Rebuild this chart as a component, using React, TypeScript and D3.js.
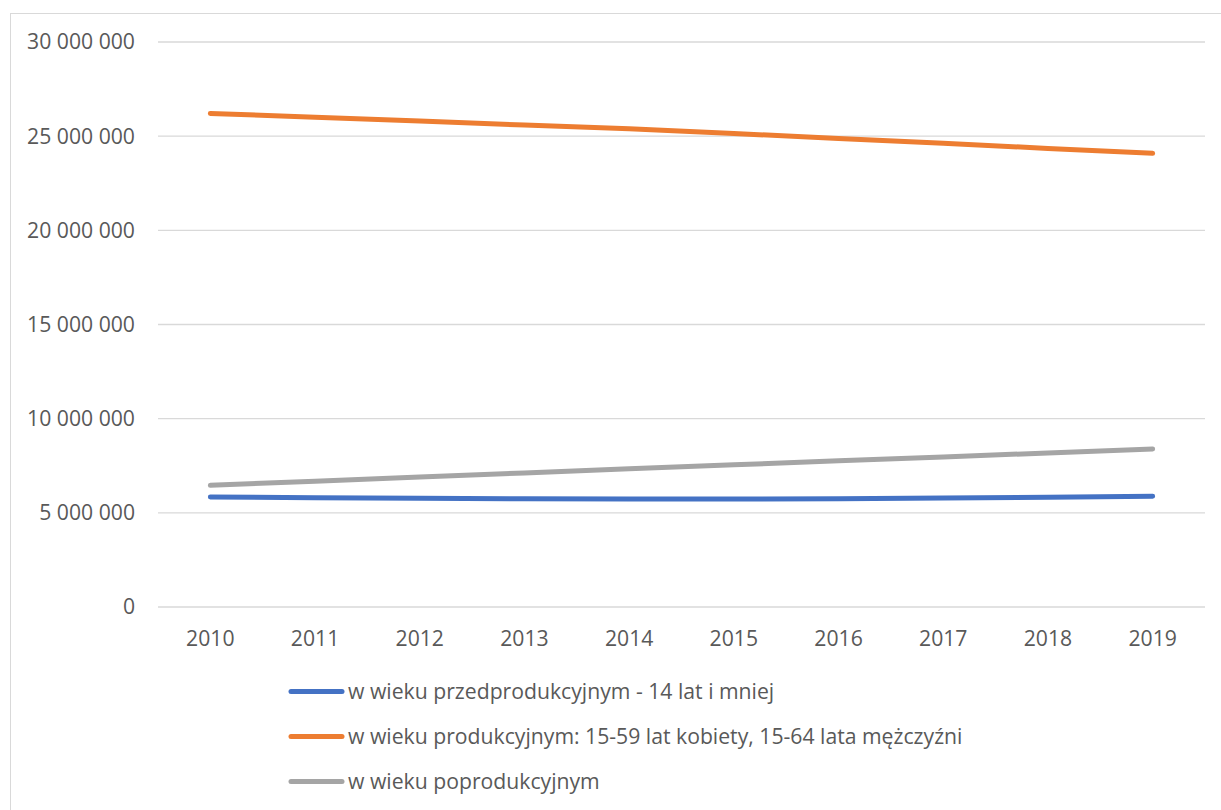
import React from "react";
import * as d3 from "d3";

const years = ["2010", "2011", "2012", "2013", "2014", "2015", "2016", "2017", "2018", "2019"];
const przedprodukcyjny = [5840000, 5800000, 5770000, 5750000, 5730000, 5730000, 5750000, 5790000, 5830000, 5880000];
const produkcyjny = [26210000, 26000000, 25800000, 25590000, 25390000, 25140000, 24880000, 24620000, 24350000, 24090000];
const poprodukcyjny = [6460000, 6680000, 6900000, 7120000, 7340000, 7550000, 7760000, 7970000, 8180000, 8390000];
const yTicks = [0, 5000000, 10000000, 15000000, 20000000, 25000000, 30000000];
const seriesNames = [
  "w wieku przedprodukcyjnym - 14 lat i mniej",
  "w wieku produkcyjnym: 15-59 lat kobiety, 15-64 lata mężczyźni",
  "w wieku poprodukcyjnym",
];
const seriesColors = ["#4472c4", "#ed7d31", "#a5a5a5"];

const W = 1221;
const H = 810;
const plot = { left: 158, right: 1205, top: 42, bottom: 607 };
const FONT = "'Open Sans', sans-serif";
const TEXT = "#595959";
const FS = 21.2;

const fmt = (v: number) => d3.format(",")(v).replace(/,/g, " ");

export default function App() {
  const x = d3.scaleBand<string>().domain(years).range([plot.left, plot.right]);
  const y = d3.scaleLinear().domain([0, 30000000]).range([plot.bottom, plot.top]);
  const cx = (yr: string) => (x(yr) ?? 0) + x.bandwidth() / 2;
  const line = d3
    .line<number>()
    .x((_, i) => cx(years[i]))
    .y((v) => y(v));
  const data = [przedprodukcyjny, produkcyjny, poprodukcyjny];

  return (
    <svg
      width={W}
      height={H}
      style={{ position: "absolute", left: 0, top: 0, background: "#fff" }}
      fontFamily={FONT}
    >
      <rect x={10.5} y={13.5} width={1230} height={830} fill="#fff" stroke="#d9d9d9" strokeWidth={1} />
      {yTicks.map((t) => (
        <g key={t}>
          <line x1={plot.left} x2={plot.right} y1={y(t)} y2={y(t)} stroke="#d9d9d9" strokeWidth={1.3} />
          <text x={135} y={y(t)} dy="0.35em" textAnchor="end" fontSize={FS} fill={TEXT}>
            {fmt(t)}
          </text>
        </g>
      ))}
      {years.map((yr) => (
        <text key={yr} x={cx(yr)} y={639} dy="0.35em" textAnchor="middle" fontSize={FS} fill={TEXT}>
          {yr}
        </text>
      ))}
      {data.map((d, i) => (
        <path
          key={i}
          d={line(d) ?? ""}
          fill="none"
          stroke={seriesColors[i]}
          strokeWidth={5}
          strokeLinecap="round"
          strokeLinejoin="round"
        />
      ))}
      {seriesNames.map((name, i) => {
        const ly = 691.5 + i * 45;
        return (
          <g key={name}>
            <line x1={291} x2={342} y1={ly} y2={ly} stroke={seriesColors[i]} strokeWidth={5} strokeLinecap="round" />
            <text x={348} y={ly} dy="0.35em" fontSize={FS} fill={TEXT}>
              {name}
            </text>
          </g>
        );
      })}
    </svg>
  );
}
